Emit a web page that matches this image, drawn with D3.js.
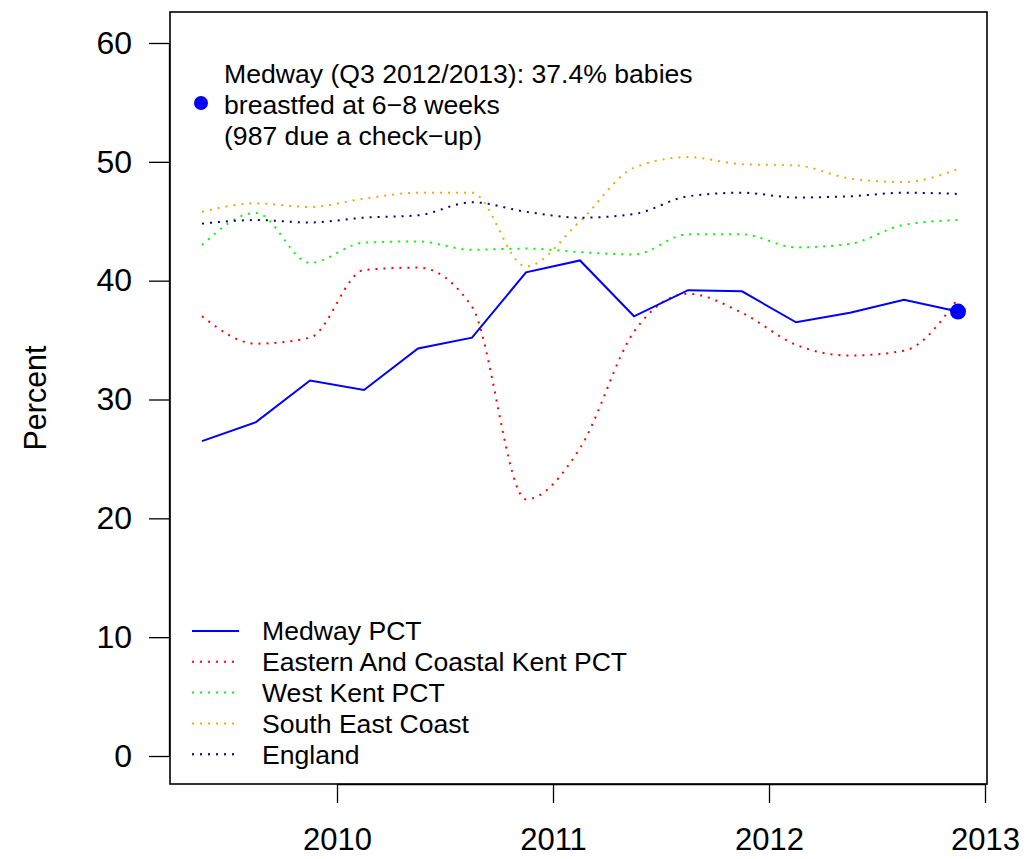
<!DOCTYPE html>
<html><head><meta charset="utf-8">
<script src="https://cdn.jsdelivr.net/npm/d3@7"></script>
<style>body{margin:0;background:#fff}svg{display:block}text{font-family:"Liberation Sans",Arial,sans-serif}</style>
</head><body><svg id="c" width="1025" height="859"></svg>
<script>
const quarters = [2009.375,2009.625,2009.875,2010.125,2010.375,2010.625,2010.875,2011.125,2011.375,2011.625,2011.875,2012.125,2012.375,2012.625,2012.875];
const medway = [26.5,28.1,31.6,30.8,34.3,35.2,40.7,41.7,37.0,39.2,39.1,36.5,37.3,38.4,37.4];
const eastKent = [37.0,34.7,35.2,40.9,41.1,37.8,21.6,25.9,35.7,38.9,37.3,34.6,33.7,34.1,38.5];
const westKent = [43.0,45.7,41.5,43.2,43.3,42.6,42.7,42.4,42.2,43.9,43.9,42.8,43.1,44.7,45.1];
const seCoast = [45.8,46.5,46.2,46.9,47.4,47.4,41.2,45.0,49.5,50.4,49.8,49.7,48.6,48.3,49.4];
const england = [44.8,45.1,44.9,45.3,45.5,46.6,45.8,45.3,45.6,47.1,47.4,47.0,47.1,47.4,47.3];
const seriesNames = ["Medway PCT","Eastern And Coastal Kent PCT","West Kent PCT","South East Coast","England"];
const seriesColors = ["#0000FF","#FF0000","#00FF00","#FFA500","#000080"];
const xTicks = [2010,2011,2012,2013];
const yTicks = [0,10,20,30,40,50,60];
const annotation = ["Medway (Q3 2012/2013): 37.4% babies","breastfed at 6\u22128 weeks","(987 due a check\u2212up)"];

const svg = d3.select("#c");
const box = {l:170, r:987, t:12, b:784};
const x = d3.scaleLinear().domain([2010,2013]).range([337,985]);
const y = d3.scaleLinear().domain([0,60]).range([756,43]);

svg.append("rect").attr("x",box.l).attr("y",box.t).attr("width",box.r-box.l).attr("height",box.b-box.t)
  .attr("fill","none").attr("stroke","#000").attr("stroke-width",1.6);

const yAxis = svg.append("g").attr("transform",`translate(${box.l},0)`)
  .call(d3.axisLeft(y).tickValues(yTicks).tickSize(21).tickPadding(17).tickFormat(d3.format("d")));
const xAxis = svg.append("g").attr("transform",`translate(0,${box.b})`)
  .call(d3.axisBottom(x).tickValues(xTicks).tickSize(19).tickPadding(25).tickFormat(d3.format("d")));
[yAxis,xAxis].forEach(a=>{
  a.selectAll("path").attr("stroke","#000").attr("stroke-width",1.3);
  a.selectAll("line").attr("stroke","#000").attr("stroke-width",1.3);
  a.selectAll("text").attr("fill","#000").attr("font-family","Liberation Sans, Arial, sans-serif");
});
yAxis.selectAll("text").attr("font-size",32);
xAxis.selectAll("text").attr("font-size",31);
yAxis.select("path").attr("d",`M-0.5,${y(0)}V${y(60)}`);
xAxis.select("path").attr("d",`M${x(2010)},0.5H${x(2013)}`);

svg.append("text").attr("transform","translate(46,398) rotate(-90)").attr("text-anchor","middle")
  .attr("font-size",30.5).text("Percent");

const all = [medway,eastKent,westKent,seCoast,england];
const dotted = "2 6";
[1,2,3,4].forEach(i=>{
  const line = d3.line().x((d,j)=>x(quarters[j])).y(d=>y(d)).curve(d3.curveMonotoneX);
  svg.append("path").attr("d",line(all[i])).attr("fill","none").attr("stroke",seriesColors[i])
    .attr("stroke-width",2).attr("stroke-dasharray",dotted);
});
const lineStraight = d3.line().x((d,j)=>x(quarters[j])).y(d=>y(d));
svg.append("path").attr("d",lineStraight(medway)).attr("fill","none").attr("stroke",seriesColors[0]).attr("stroke-width",2);
const li = medway.length-1;
svg.append("circle").attr("cx",x(quarters[li])).attr("cy",y(medway[li])).attr("r",8).attr("fill",seriesColors[0]);

svg.append("circle").attr("cx",201).attr("cy",103).attr("r",7).attr("fill",seriesColors[0]);
annotation.forEach((t,i)=>{
  svg.append("text").attr("x",224).attr("y",74+i*31).attr("dy","0.35em").attr("font-size",26.6).text(t);
});

seriesNames.forEach((n,i)=>{
  const yy = 631 + i*30.8;
  svg.append("line").attr("x1",192).attr("x2",239).attr("y1",yy).attr("y2",yy)
    .attr("stroke",seriesColors[i]).attr("stroke-width",2).attr("stroke-dasharray", i===0?null:dotted);
  svg.append("text").attr("x",262).attr("y",yy).attr("dy","0.35em").attr("font-size",26.6).text(n);
});
</script></body></html>
